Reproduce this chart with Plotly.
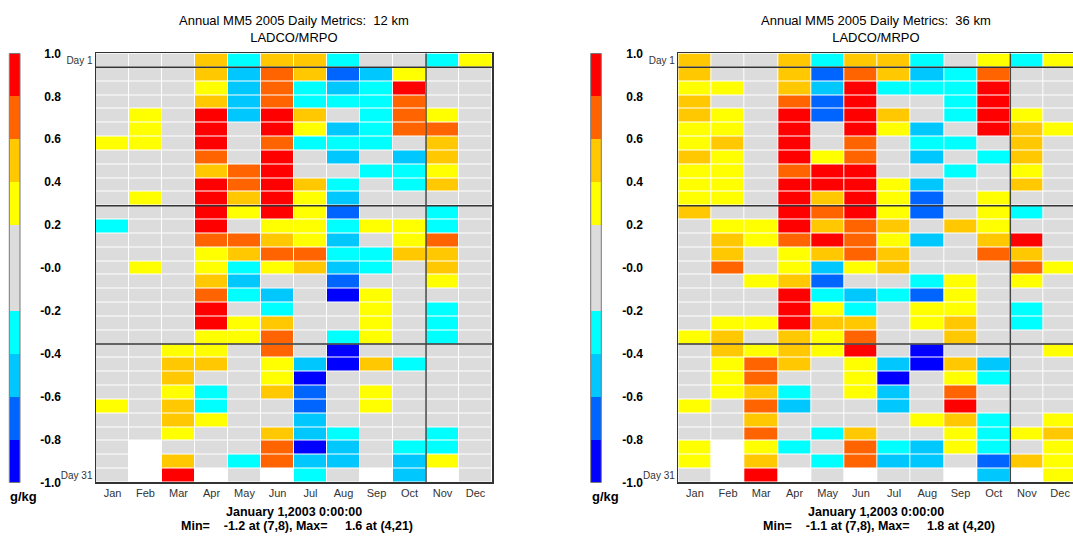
import plotly.graph_objects as go

W, H = 1073, 546

months = ["Jan", "Feb", "Mar", "Apr", "May", "Jun", "Jul", "Aug", "Sep", "Oct", "Nov", "Dec"]
days = list(range(1, 32))

# colour classes (g/kg), bottom to top of the colour bar
bin_edges = [-1.0, -0.8, -0.6, -0.4, -0.2, 0.0, 0.2, 0.4, 0.6, 0.8, 1.0]
bin_centers = [-0.9, -0.7, -0.5, -0.3, -0.1, 0.1, 0.3, 0.5, 0.7, 0.9]
bin_colors = ["#0000FF", "#0064FF", "#00C8FF", "#00FFFF", "#DCDCDC",
              "#DCDCDC", "#FFFF00", "#FFC800", "#FF6400", "#FF0000"]
cbar_ticks = [1.0, 0.8, 0.6, 0.4, 0.2, 0.0, -0.2, -0.4, -0.6, -0.8, -1.0]
cbar_ticktext = ["1.0", "0.8", "0.6", "0.4", "0.2", "-0.0", "-0.2", "-0.4", "-0.6", "-0.8", "-1.0"]

# ---- 12 km daily values (day 1..31), None = no day ----
jan_12km = [0, 0, 0, 0, 0, 0, 0.3, 0, 0, 0, 0, 0, -0.3, 0, 0, 0, 0, 0, 0, 0, 0, 0, 0, 0, 0, 0.3, 0, 0, 0, 0, 0]
feb_12km = [0, 0, 0, 0, 0.3, 0.3, 0.3, 0, 0, 0, 0.3, 0, 0, 0, 0, 0.3, 0, 0, 0, 0, 0, 0, 0, 0, 0, 0, 0, 0, None, None, None]
mar_12km = [0, 0, 0, 0, 0, 0, 0, 0, 0, 0, 0, 0, 0, 0, 0, 0, 0, 0, 0, 0, 0, 0.3, 0.5, 0.5, 0.3, 0.5, 0.5, 0.3, 0, 0.5, 0.9]
apr_12km = [0.5, 0.5, 0.3, 0.5, 0.9, 0.9, 0.9, 0.7, 0.5, 0.9, 0.9, 0.9, 0.9, 0.7, 0.3, 0.3, 0.5, 0.7, 0.9, 0.9, 0.3, 0.3, 0.5, 0, -0.3, -0.3, 0.3, 0, 0, 0, None]
may_12km = [-0.3, -0.5, -0.5, -0.5, -0.5, 0, 0, 0, 0.7, 0.7, 0.5, 0.3, 0, 0.7, 0.5, -0.3, -0.5, -0.3, 0, 0.3, 0.3, 0, 0, 0, 0, 0, 0, 0, 0, -0.3, 0]
jun_12km = [0.5, 0.7, 0.7, 0.7, 0.9, 0.9, 0.7, 0.9, 0.9, 0.9, 0.9, 0.9, 0.3, 0.5, 0.7, 0.3, 0, -0.5, -0.3, 0.5, 0.7, 0.7, 0.3, 0.3, 0.5, 0, 0, 0.5, 0.7, 0.7, None]
jul_12km = [0.5, 0.5, -0.3, -0.3, 0.5, 0.3, -0.3, 0, 0, 0.5, 0.3, 0.3, 0.3, 0.3, 0.7, 0.5, 0, 0, 0, 0, 0, 0, -0.5, -0.9, -0.7, -0.7, -0.5, -0.5, -0.9, -0.5, -0.3]
aug_12km = [-0.3, -0.7, -0.5, -0.3, 0, -0.5, -0.3, -0.5, 0, -0.3, -0.5, -0.7, -0.3, -0.5, -0.3, -0.5, -0.7, -0.9, 0, 0, -0.3, -0.9, -0.9, 0, 0, 0, 0, -0.3, -0.5, -0.5, 0]
sep_12km = [0, -0.5, -0.3, -0.3, -0.3, -0.3, -0.3, 0, -0.3, 0, 0, 0, 0.3, 0, -0.3, -0.3, 0, 0.3, 0.3, 0.3, 0.3, 0, 0.5, 0, 0.3, 0.3, 0, 0, 0, 0, None]
oct_12km = [0, 0.3, 0.9, 0.7, 0.7, 0.7, 0, -0.5, -0.3, -0.3, 0, 0, 0.3, 0.3, 0.5, 0, 0, 0, 0, 0, 0, 0, -0.3, 0, 0, 0, 0, 0, -0.3, -0.5, -0.5]
nov_12km = [-0.3, 0, 0, 0, 0.3, 0.7, 0.5, 0.5, 0.3, 0.5, 0, -0.3, -0.3, 0.7, 0.5, 0.5, 0.3, 0, -0.3, -0.3, -0.3, 0, 0, 0, 0, 0, 0, -0.3, -0.3, 0.3, None]
dec_12km = [0.3, 0, 0, 0, 0, 0, 0, 0, 0, 0, 0, 0, 0, 0, 0, 0, 0, 0, 0, 0, 0, 0, 0, 0, 0, 0, 0, 0, 0, 0, 0]

# ---- 36 km daily values ----
jan_36km = [0.5, 0.5, 0.3, 0.5, 0.5, 0.3, 0.3, 0.5, 0.3, 0.3, 0.3, 0.5, 0, 0, 0, 0, 0, 0, 0, 0, 0.3, 0, 0, 0, 0, 0.3, 0, 0, 0.3, 0.3, 0]
feb_36km = [0, 0, 0.3, 0, 0.3, 0.3, 0.5, 0.3, 0.3, 0.3, 0.3, 0, 0.3, 0.5, 0.5, 0.7, 0, 0, 0, 0.3, 0.5, 0.5, 0.3, 0.3, 0.3, 0, 0, 0, None, None, None]
mar_36km = [0, 0, 0, 0, 0, 0, 0, 0, 0, 0, 0, 0, 0.3, 0.3, 0, 0, 0.3, 0, 0, 0.3, 0, 0.3, 0.7, 0.7, 0.5, 0.7, 0.5, 0.7, 0.3, 0.5, 0.9]
apr_36km = [0.5, 0.5, 0.5, 0.7, 0.9, 0.9, 0.9, 0.9, 0.7, 0.9, 0.9, 0.9, 0.9, 0.7, 0.3, 0.3, 0.5, 0.9, 0.9, 0.9, 0.5, 0.5, 0.5, 0, -0.3, -0.5, 0, 0, -0.3, 0, None]
may_36km = [-0.3, -0.7, -0.5, -0.7, -0.7, 0, 0, 0.3, 0.9, 0.9, 0.5, 0.7, 0.5, 0.9, 0.5, -0.5, -0.7, -0.3, 0.3, 0.5, 0.3, 0.3, 0, 0, 0, 0, 0, -0.3, 0, -0.3, 0]
jun_36km = [0.5, 0.7, 0.9, 0.9, 0.9, 0.9, 0.7, 0.7, 0.9, 0.9, 0.9, 0.9, 0.7, 0.7, 0.7, 0.3, 0, -0.5, -0.3, 0.5, 0.7, 0.9, 0.3, 0.3, 0.3, 0, 0, 0.5, 0.7, 0.7, None]
jul_36km = [0.5, 0.5, -0.3, 0, 0.5, 0.3, 0, 0, 0, 0.3, 0.3, 0.3, 0.5, 0.3, 0.5, 0.5, 0, -0.3, 0, 0, 0, 0, -0.5, -0.9, -0.5, -0.5, 0, 0, -0.3, -0.5, 0]
aug_36km = [-0.3, -0.5, -0.3, 0, 0, -0.5, -0.3, -0.5, 0, -0.5, -0.7, -0.7, 0, -0.5, 0, 0, -0.3, -0.7, 0.3, 0.3, 0, -0.9, -0.9, 0, 0, 0, 0.3, 0, -0.5, -0.5, 0]
sep_36km = [0, -0.3, -0.3, -0.3, -0.3, 0, -0.3, 0, -0.3, 0, 0, 0, 0.5, 0, 0, 0, 0.3, 0.3, 0.3, 0.5, 0.5, 0, 0.5, 0.3, 0.7, 0.9, 0.5, 0.3, 0.3, 0, None]
oct_36km = [0.3, 0.7, 0.9, 0.9, 0.9, 0.9, 0, -0.3, 0, 0, 0.3, 0.3, 0.3, 0.5, 0.7, 0, 0, 0, 0, 0, 0, 0, -0.5, -0.3, 0, 0, -0.3, -0.3, -0.3, -0.7, -0.5]
nov_36km = [-0.3, 0, 0, 0, 0.3, 0.5, 0.5, 0.5, 0.3, 0.5, 0, -0.3, 0, 0.9, 0.5, 0.7, 0.3, 0, -0.3, -0.3, 0, 0, 0, 0, 0, 0, 0, 0.3, 0, 0.5, None]
dec_36km = [0.3, 0, 0, 0, 0, 0.3, 0, 0, 0, 0, 0, 0, 0, 0, 0, 0.3, 0, 0, 0, 0, 0, 0.3, 0, 0, 0, 0, 0.3, 0.5, 0.3, 0.3, 0.3]

series_12km = [jan_12km, feb_12km, mar_12km, apr_12km, may_12km, jun_12km,
               jul_12km, aug_12km, sep_12km, oct_12km, nov_12km, dec_12km]
series_36km = [jan_36km, feb_36km, mar_36km, apr_36km, may_36km, jun_36km,
               jul_36km, aug_36km, sep_36km, oct_36km, nov_36km, dec_36km]

NB = "\u00a0"
titles = ["Annual MM5 2005 Daily Metrics:  12 km<br>LADCO/MRPO",
          "Annual MM5 2005 Daily Metrics:  36 km<br>LADCO/MRPO"]
footer_line1 = ["January 1,2003 0:00:00", "January 1,2003 0:00:00"]
footer_line2 = ["Min=" + NB * 4 + "-1.2 at (7,8), Max=" + NB * 5 + "1.6 at (4,21)",
                "Min=" + NB * 4 + "-1.1 at (7,8), Max=" + NB * 5 + "1.8 at (4,20)"]
units = "g/kg"

FONT = "Liberation Sans, Arial, sans-serif"


def px_x(v):
    return v / W


def px_y(v):
    return 1 - v / H


colorscale = []
zlo, zhi = bin_edges[0], bin_edges[-1]
for i, c in enumerate(bin_colors):
    colorscale.append([(bin_edges[i] - zlo) / (zhi - zlo), c])
    colorscale.append([(bin_edges[i + 1] - zlo) / (zhi - zlo), c])

fig = go.Figure()

# panel geometry (pixels)
panels = [
    dict(series=series_12km, left=96.0, colw=33.0, cb_left=9.3, cb_right=20.0, label_right=59.0),
    dict(series=series_36km, left=678.3, colw=33.2, cb_left=590.7, cb_right=601.3, label_right=641.0),
]
top_px, bot_px = 47.7, 488.0

shapes = []
annotations = []
for p, pan in enumerate(panels):
    n = 2 * p + 1  # main axes index
    m = 2 * p + 2  # colour bar axes index
    xa = "x" if n == 1 else "x%d" % n
    ya = "y" if n == 1 else "y%d" % n
    xb, yb = "x%d" % m, "y%d" % m
    full_right = pan["left"] + 12 * pan["colw"]
    right = min(full_right, W)
    xmax = -0.5 + (right - pan["left"]) / pan["colw"]

    z = [[pan["series"][mo][d] for mo in range(12)] for d in range(31)]
    fig.add_trace(go.Heatmap(
        z=z, x=list(range(12)), y=days, xaxis=xa, yaxis=ya,
        colorscale=colorscale, zmin=zlo, zmax=zhi, showscale=False,
        xgap=1, ygap=1, hoverinfo="skip"))

    fig.add_trace(go.Heatmap(
        z=[[v] for v in bin_centers], x=[0], y=bin_centers, xaxis=xb, yaxis=yb,
        colorscale=colorscale, zmin=zlo, zmax=zhi, showscale=False, hoverinfo="skip"))

    lay_x = "xaxis" if n == 1 else "xaxis%d" % n
    lay_y = "yaxis" if n == 1 else "yaxis%d" % n
    fig.update_layout(**{
        lay_x: dict(domain=[px_x(pan["left"]), px_x(right)], range=[-0.5, xmax],
                    tickvals=list(range(12)), ticktext=months, ticks="",
                    tickfont=dict(family=FONT, size=11, color="#333333"),
                    showgrid=False, zeroline=False, showline=True, linecolor="#333333",
                    linewidth=1.5, mirror=True, anchor=ya, fixedrange=True),
        lay_y: dict(domain=[px_y(bot_px), px_y(top_px)], range=[31.5, 0.5],
                    tickvals=[1, 31], ticktext=["Day 1", "Day 31"], ticks="",
                    tickfont=dict(family=FONT, size=10, color="#333333"),
                    showgrid=False, zeroline=False, showline=True, linecolor="#333333",
                    linewidth=1.5, mirror=(full_right <= W), anchor=xa, fixedrange=True),
        "xaxis%d" % m: dict(domain=[px_x(pan["cb_left"]), px_x(pan["cb_right"])],
                            range=[-0.5, 0.5], showticklabels=False, ticks="",
                            showgrid=False, zeroline=False, showline=False, anchor=yb,
                            fixedrange=True),
        "yaxis%d" % m: dict(domain=[px_y(bot_px), px_y(top_px)], range=[-1, 1],
                            tickvals=cbar_ticks, ticktext=["<b>%s</b>" % t for t in cbar_ticktext],
                            ticks="", side="left", anchor="free",
                            position=px_x(pan["label_right"] + 2),
                            tickfont=dict(family=FONT, size=12, color="#000000"),
                            showgrid=False, zeroline=False, showline=False, fixedrange=True),
    })

    # heavy separators
    for yv in [1.5, 11.5, 21.5]:
        shapes.append(dict(type="line", xref="%s domain" % xa, yref=ya, x0=0, x1=1, y0=yv, y1=yv,
                           line=dict(color="#333333", width=1.5)))
    shapes.append(dict(type="line", xref=xa, yref="%s domain" % ya, x0=9.5, x1=9.5, y0=0, y1=1,
                       line=dict(color="#444444", width=1.5)))
    # colour bar frame
    shapes.append(dict(type="rect", xref="%s domain" % xb, yref="%s domain" % yb, x0=0, x1=1, y0=0, y1=1,
                       line=dict(color="#777777", width=1)))

    cx = pan["left"] + 12 * 33.0 / 2
    annotations.append(dict(text=titles[p], x=px_x(cx), y=px_y(22.5), xref="paper", yref="paper",
                            showarrow=False, xanchor="center", yanchor="middle",
                            font=dict(family=FONT, size=13, color="#000000")))
    annotations.append(dict(text="<b>%s</b>" % footer_line1[p],
                            x=px_x(cx), y=px_y(518), xref="paper", yref="paper",
                            showarrow=False, xanchor="center", yanchor="middle",
                            font=dict(family=FONT, size=12.5, color="#000000")))
    annotations.append(dict(text="<b>%s</b>" % footer_line2[p],
                            x=px_x(cx + 3), y=px_y(533), xref="paper", yref="paper",
                            showarrow=False, xanchor="center", yanchor="middle",
                            font=dict(family=FONT, size=12.5, color="#000000")))
    annotations.append(dict(text="<b>%s</b>" % units, x=px_x((pan["cb_left"] + pan["cb_right"]) / 2 + 9),
                            y=px_y(502), xref="paper", yref="paper", showarrow=False,
                            xanchor="center", yanchor="middle",
                            font=dict(family=FONT, size=13, color="#000000")))

fig.update_layout(width=W, height=H, margin=dict(l=0, r=0, t=0, b=0),
                  paper_bgcolor="white", plot_bgcolor="white", showlegend=False,
                  shapes=shapes, annotations=annotations)

fig.write_html("out.html", config={"displayModeBar": False, "staticPlot": True},
               post_script="document.body.style.margin='0px';document.body.style.overflow='hidden';")
